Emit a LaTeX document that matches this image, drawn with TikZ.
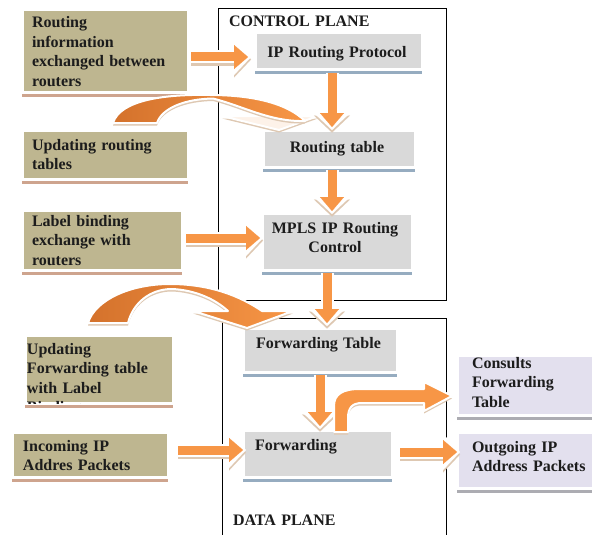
\documentclass[tikz,border=0pt]{standalone}
\usepackage{fontspec}
\setmainfont{Liberation Serif}
\usetikzlibrary{arrows.meta,shadows,fit}

\definecolor{tanfill}{RGB}{190,182,144}
\definecolor{tanshadow}{RGB}{206,164,142}
\definecolor{grayfill}{RGB}{217,217,217}
\definecolor{grayshadow}{RGB}{150,172,192}
\definecolor{lavfill}{RGB}{227,224,238}
\definecolor{lavshadow}{RGB}{172,172,178}
\definecolor{arroworange}{RGB}{247,150,70}
\definecolor{arrowdark}{RGB}{212,114,44}
\definecolor{arrowpale}{RGB}{253,242,233}
\definecolor{rimshadow}{RGB}{222,200,178}
\definecolor{inkcol}{RGB}{28,28,28}

\tikzset{
  x=1pt, y=-1pt,
  box/.style={rectangle, inner sep=0pt, outer sep=0pt, draw=white, line width=3pt},
  tanbox/.style={box, fill=tanfill,
    drop shadow={shadow xshift=0pt, shadow yshift=-4.5pt, fill=tanshadow, opacity=1}},
  graybox/.style={box, fill=grayfill,
    drop shadow={shadow xshift=0pt, shadow yshift=-4.5pt, fill=grayshadow, opacity=1}},
  lavbox/.style={box, fill=lavfill,
    drop shadow={shadow xshift=0pt, shadow yshift=-4.5pt, fill=lavshadow, opacity=1}},
  lbl/.style={font=\fontsize{16}{19.5}\selectfont\bfseries, text=inkcol,
    inner sep=0pt, outer sep=0pt, align=left, text width=#1, anchor=base west},
  clbl/.style={font=\fontsize{16}{19.5}\selectfont\bfseries, text=inkcol,
    inner sep=0pt, outer sep=0pt, align=center, text width=#1, anchor=base},
  plane/.style={draw=black, line width=0.8pt},
  flow/.style={
    preaction={draw=rimshadow, line width=13pt, shorten >=0pt,
      -{Triangle[length=17pt,width=36pt,line width=0.1pt]},
      transform canvas={yshift=-2.5pt}},
    preaction={draw=white, line width=13pt, shorten >=0pt,
      -{Triangle[length=17pt,width=36pt,line width=0.1pt]}},
    draw=arroworange, line width=9pt, shorten >=3pt,
    -{Triangle[length=14pt,width=24pt,line width=0.1pt]}},
  bigarrow/.style={draw=white, line width=2pt, line join=round,
    preaction={fill=rimshadow, transform canvas={yshift=-2.5pt}}},
}

\begin{document}
\begin{tikzpicture}
\useasboundingbox (0,0) rectangle (592,535);
\fill[white] (0,0) rectangle (592,535);
\clip (0,0) rectangle (592,535);

% planes
\draw[plane] (218,8) rectangle (446,300);
\draw[plane] (222,540) -- (222,318) -- (446,318) -- (446,540);
\node[lbl=160pt] (cp) at (229,27) {CONTROL PLANE};
\node[lbl=160pt] (dp) at (233,525) {DATA PLANE};

% input / event boxes on the left
\node[tanbox, fit={(22,10) (188,93)}] (b1) {};
\node[lbl=150pt] (b1t) at (32,28) {Routing\\information\\exchanged between\\routers};
\node[tanbox, fit={(22,130) (188,179)}] (b2) {};
\node[lbl=150pt] (b2t) at (32,150) {Updating routing\\tables};
\node[tanbox, fit={(22,210) (182,270)}] (b3) {};
\node[lbl=150pt] (b3t) at (32,226) {Label binding\\exchange with\\routers};
\node[tanbox, fit={(25,335) (173,403)}] (b4) {};
\begin{scope}
  \clip (25,335) rectangle (173,403);
  \node[lbl=145pt] (b4t) at (27,354) {Updating\\Forwarding table\\with Label\\Bindings};
\end{scope}
\node[tanbox, fit={(12,432) (168,477)}] (b5) {};
\node[lbl=150pt] (b5t) at (23,451) {Incoming IP\\Addres Packets};

% processing boxes
\node[graybox, fit={(255,33) (422,70)}] (g1) {};
\node[clbl=165pt] (g1t) at (337,58) {IP Routing Protocol};
\node[graybox, fit={(263,130) (415,167)}] (g2) {};
\node[clbl=150pt] (g2t) at (337,152) {Routing table};
\node[graybox, fit={(262,213) (412,270)}] (g3) {};
\node[clbl=150pt] (g3t) at (335,233) {MPLS IP Routing\\Control};
\node[graybox, fit={(243,328) (397,372)}] (g4) {};
\node[clbl=150pt] (g4t) at (318.5,348) {Forwarding Table};
\node[graybox, fit={(243,430) (392,477)}] (g5) {};
\node[lbl=130pt] (g5t) at (255,450) {Forwarding};

% result boxes on the right
\node[lavbox, fit={(457,355) (600,415)}] (l1) {};
\node[lbl=125pt] (l1t) at (472,368) {Consults\\Forwarding\\Table};
\node[lavbox, fit={(457,432) (600,488)}] (l2) {};
\node[lbl=125pt] (l2t) at (472,452) {Outgoing IP\\Address Packets};

% curved arrow: updating routing tables
\path[bigarrow, fill=arrowpale] (222,116) -- (318,116) -- (279,130) -- cycle;
\path[bigarrow, left color=arrowdark, right color=arroworange]
  (113,123) .. controls (120,100) and (165,94) .. (210,95)
  .. controls (252,95) and (287,103) .. (305,121)
  .. controls (270,122) and (243,106) .. (213,98.5)
  .. controls (185,99) and (162,108) .. (157,123) -- cycle;

% curved arrow: updating forwarding table
\path[bigarrow, left color=arrowdark, right color=arroworange]
  (88,323) .. controls (95,300) and (130,284) .. (170,284)
  .. controls (210,284) and (240,296) .. (262,311)
  -- (293,311) -- (247,328) -- (193,311) -- (228,311)
  .. controls (215,299) and (195,290) .. (172,289)
  .. controls (150,289) and (133,303) .. (128,323) -- cycle;

% straight flows
\draw[flow] ([shift={(3,5.5)}]b1.east) -- ([shift={(-4,5.5)}]g1.west);
\draw[flow] ([shift={(-6.5,3)}]g1.south) -- ([shift={(-7,0)}]g2.north);
\draw[flow] ([shift={(-7,3)}]g2.south) -- ([shift={(-5,1)}]g3.north);
\draw[flow] ([shift={(4,-2)}]b3.east) -- ([shift={(1,-3.5)}]g3.west);
\draw[flow] ([shift={(-10,3)}]g3.south) -- ([shift={(7,-2)}]g4.north);
\draw[flow] ([shift={(0,3)}]g4.south) -- ([shift={(2.5,-1)}]g5.north);
\draw[flow] ([shift={(10,-4.5)}]b5.east) -- ([shift={(3,-3.5)}]g5.west);
\draw[flow] ([shift={(8,-1.5)}]g5.east) -- ([shift={(3,-8)}]l2.west);

% bent arrow: forwarding consults the table
\path[bigarrow, fill=arroworange]
  (334,432) -- (334,406) .. controls (334,394) and (343,389) .. (360,389)
  -- (424,389) -- (424,382) -- (452,396) -- (424,411) -- (424,403)
  -- (362,403) .. controls (352,403) and (348,408) .. (348,418)
  -- (348,432) -- cycle;
\end{tikzpicture}
\end{document}
